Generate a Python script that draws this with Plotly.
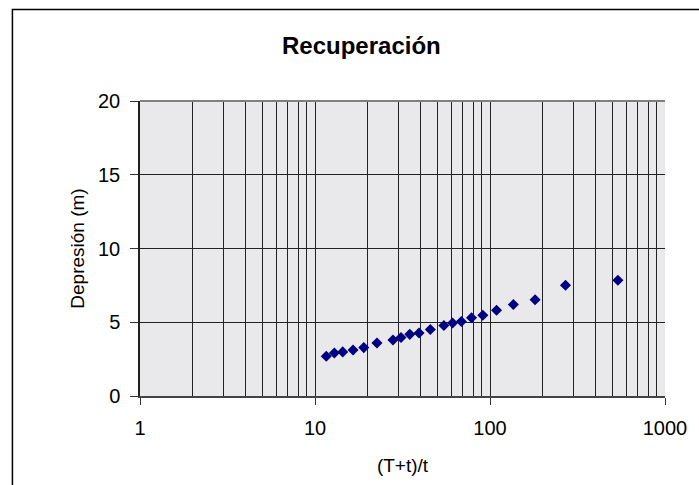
import plotly.graph_objects as go

# Data
x_ratio = [11.6, 12.9, 14.4, 16.5, 19.0, 22.6, 27.9, 31.0, 34.8, 39.3, 45.6,
           54.5, 61.1, 68.6, 78.4, 91.0, 109, 136, 181, 270, 538]
drawdown = [2.69, 2.92, 2.99, 3.12, 3.28, 3.59, 3.80, 3.97, 4.18, 4.27, 4.51,
            4.78, 4.95, 5.05, 5.30, 5.47, 5.82, 6.20, 6.52, 7.51, 7.85]

x_major = [1, 10, 100, 1000]
x_major_text = ["1", "10", "100", "1000"]
x_minor = [m * d for d in (1, 10, 100) for m in range(2, 10)]
y_ticks = [0, 5, 10, 15, 20]

title_text = "Recuperación"
x_title = "(T+t)/t"
y_title = "Depresión (m)"

FONT = "Liberation Sans, Arial, sans-serif"

fig = go.Figure()
fig.add_trace(go.Scatter(
    x=x_ratio, y=drawdown, mode="markers",
    marker=dict(symbol="diamond", size=8.5, color="#000080",
                line=dict(width=0)),
    showlegend=False,
))

fig.update_layout(
    width=699, height=485,
    margin=dict(l=140, r=26, t=101, b=88),
    paper_bgcolor="white",
    plot_bgcolor="#e9e9eb",
    font=dict(family=FONT, color="black"),
    title=dict(text="<b>" + title_text + "</b>", x=0.517, xanchor="center",
               y=0.905, yanchor="middle",
               font=dict(size=24, family=FONT, color="black")),
    xaxis=dict(
        type="log", range=[0, 3],
        tickmode="array", tickvals=x_major, ticktext=x_major_text,
        ticks="outside", ticklen=7, tickcolor="#333333", tickwidth=1,
        tickfont=dict(size=20), ticklabelstandoff=6,
        showgrid=True, gridcolor="#222222", gridwidth=1,
        minor=dict(tickmode="array", tickvals=x_minor, showgrid=True,
                   gridcolor="#222222", gridwidth=1, ticks=""),
        showline=True, linecolor="#444444", linewidth=1.5, mirror=False,
        zeroline=False,
        title=dict(text=x_title, font=dict(size=19), standoff=21),
    ),
    yaxis=dict(
        range=[0, 20], tickmode="array", tickvals=y_ticks,
        ticks="outside", ticklen=8, tickcolor="#333333", tickwidth=1,
        tickfont=dict(size=20), ticklabelstandoff=6,
        showgrid=True, gridcolor="#222222", gridwidth=1,
        showline=True, linecolor="#222222", linewidth=1.5, mirror=False,
        zeroline=False,
        title=dict(text=y_title, font=dict(size=19), standoff=8),
    ),
    shapes=[
        # outer chart border (top and left visible)
        dict(type="rect", xref="paper", yref="paper",
             x0=-0.243, x1=1.2, y0=-0.4, y1=1.31,
             line=dict(color="black", width=1.5), layer="below"),
        # grey top edge of plot area
        dict(type="line", xref="paper", yref="paper",
             x0=0, x1=1, y0=1, y1=1,
             line=dict(color="#808080", width=2)),
    ],
)

fig.write_html("out.html")
